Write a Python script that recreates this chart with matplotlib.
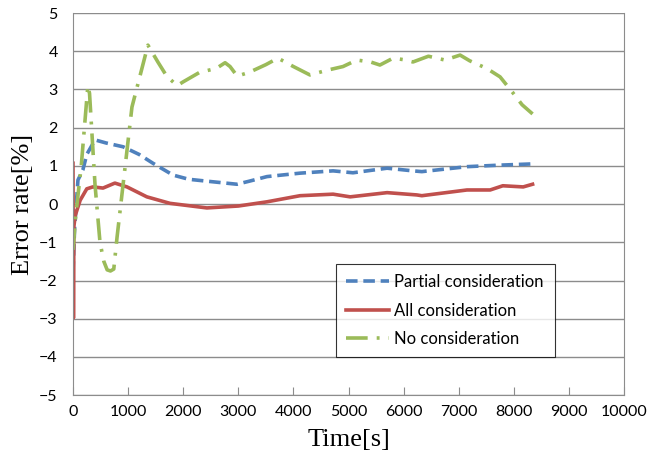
import matplotlib.pyplot as plt
import numpy as np

# error rate traces [%] against elapsed time [s]
t_partial = [0, 30, 60, 90, 180, 250, 400, 600, 910, 1200, 1450, 1815, 2100, 2430,
             2975, 3200, 3520, 4120, 4720, 5080, 5700, 6170, 6330, 7150, 7750, 8300]
partial = [-1.8, -0.6, 0.0, 0.63, 0.9, 1.3, 1.68, 1.6, 1.5, 1.3, 1.07, 0.76, 0.65, 0.6,
           0.52, 0.6, 0.72, 0.81, 0.87, 0.82, 0.94, 0.87, 0.85, 0.98, 1.02, 1.05]

t_all = [0, 8, 15, 40, 130, 250, 360, 545, 760, 980, 1340, 1760, 2430, 3000, 3520,
         4120, 4720, 5030, 5700, 6240, 6330, 7150, 7570, 7800, 8170, 8340]
all_cons = [1.07, -2.98, -0.6, -0.3, 0.1, 0.4, 0.45, 0.42, 0.55, 0.45, 0.19, 0.02, -0.1,
            -0.05, 0.06, 0.22, 0.26, 0.19, 0.3, 0.24, 0.22, 0.37, 0.37, 0.48, 0.45, 0.52]

t_none = [0, 50, 150, 270, 300, 400, 490, 560, 620, 680, 740, 800, 1070, 1360, 1540,
          1700, 1890, 2000, 2300, 2600, 2760, 2850, 2980, 3200, 3500, 3720, 4000, 4300,
          4600, 4900, 5150, 5400, 5570, 5810, 6000, 6170, 6450, 6750, 7025, 7200, 7510,
          7750, 7990, 8150, 8340]
none = [-1.2, -0.3, 1.0, 3.1, 2.9, 0.5, -1.0, -1.5, -1.72, -1.75, -1.7, -0.86, 2.54, 4.16,
        3.72, 3.35, 3.1, 3.2, 3.45, 3.55, 3.7, 3.6, 3.35, 3.45, 3.65, 3.82, 3.6, 3.38,
        3.5, 3.6, 3.77, 3.72, 3.64, 3.82, 3.78, 3.72, 3.87, 3.77, 3.9, 3.75, 3.55,
        3.33, 2.9, 2.6, 2.36]

xticks = np.arange(0, 10001, 1000)
yticks = np.arange(-5, 6, 1)

fig = plt.figure(figsize=(6.66, 4.66), dpi=100)
ax = fig.add_axes([0.1096, 0.152, 0.8274, 0.820])

ax.plot(t_partial, partial, color='#4F81BD', lw=2.6, ls=(0, (3.2, 1.6)),
        label='Partial consideration')
ax.plot(t_all, all_cons, color='#C0504D', lw=2.6, label='All consideration')
ax.plot(t_none, none, color='#9BBB59', lw=2.6, ls=(0, (6, 2.5, 0.8, 2.5)),
        label='No consideration')

ax.set_xlim(0, 10000)
ax.set_ylim(-5, 5)
ax.set_xticks(xticks)
ax.set_yticks(yticks)
ax.grid(axis='y', color='#8c8c8c', lw=1)
ax.set_axisbelow(True)
for s in ['left', 'bottom', 'right']:
    ax.spines[s].set_color('#8c8c8c')
ax.spines['top'].set_visible(False)
ax.tick_params(axis='x', direction='in', length=6, color='#8c8c8c', pad=7,
               labelsize=11.5)
ax.tick_params(axis='y', length=0, pad=11, labelsize=11.5)
for lab in ax.get_xticklabels() + ax.get_yticklabels():
    lab.set_fontfamily('Lato')

ax.set_xlabel('Time[s]', family='Liberation Serif', fontsize=19, labelpad=7)
ax.set_ylabel('Error rate[%]', family='Liberation Serif', fontsize=19, labelpad=4)

leg = ax.legend(loc='lower left', bbox_to_anchor=(0.477, 0.0995, 0.397, 0.28),
                mode='expand', prop={'family': 'Lato', 'size': 12}, frameon=True,
                fancybox=False, handlelength=2.6, handletextpad=0.3,
                borderaxespad=0, labelspacing=0.75, borderpad=0.6)
leg.get_frame().set_edgecolor('#000000')
leg.get_frame().set_linewidth(0.8)

fig.savefig('out.png', dpi=100)
